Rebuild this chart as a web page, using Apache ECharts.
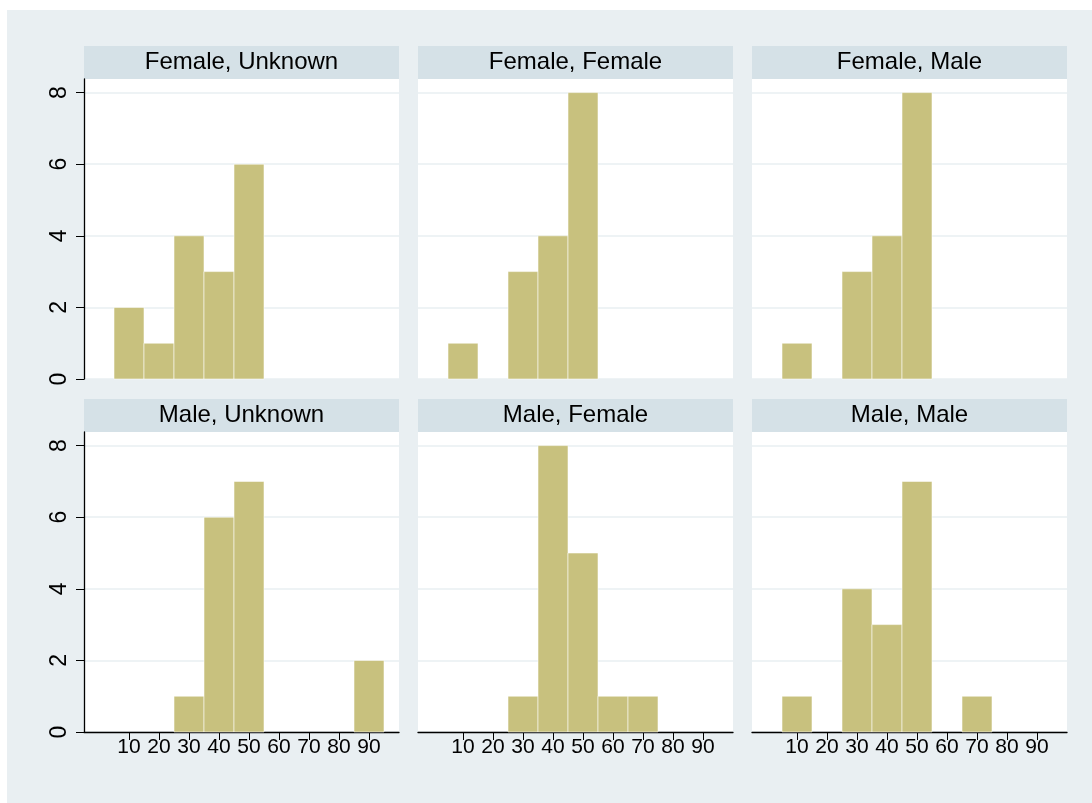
<!DOCTYPE html>
<html>
<head>
<meta charset="utf-8">
<script src="https://cdn.jsdelivr.net/npm/echarts@6/dist/echarts.min.js"></script>
<style>
  html, body { margin: 0; padding: 0; background: #fff; }
  #main { width: 1092px; height: 803px; }
</style>
</head>
<body>
<div id="main"></div>
<script>
var myChart = echarts.init(document.getElementById('main'));

// histogram bins: edges 5,15,...,95 (width 10)
var binEdges = [5, 15, 25, 35, 45, 55, 65, 75, 85, 95];
var xTicks = [10, 20, 30, 40, 50, 60, 70, 80, 90];
var yTicks = [0, 2, 4, 6, 8];

var panelTitles = ['Female, Unknown', 'Female, Female', 'Female, Male',
                   'Male, Unknown', 'Male, Female', 'Male, Male'];

var femaleUnknown = [2, 1, 4, 3, 6, 0, 0, 0, 0];
var femaleFemale  = [1, 0, 3, 4, 8, 0, 0, 0, 0];
var femaleMale    = [1, 0, 3, 4, 8, 0, 0, 0, 0];
var maleUnknown   = [0, 0, 1, 6, 7, 0, 0, 0, 2];
var maleFemale    = [0, 0, 1, 8, 5, 1, 1, 0, 0];
var maleMale      = [1, 0, 4, 3, 7, 0, 1, 0, 0];

var panelCounts = [femaleUnknown, femaleFemale, femaleMale, maleUnknown, maleFemale, maleMale];

var colX = [84, 418, 752];
var rowTop = [79, 432];
var plotW = 315, plotH = 300, stripH = 33;
var barColor = '#c8c17e';
var gridColor = '#e9eff2';
var font = 'Liberation Sans, Arial, sans-serif';

function binData(counts) {
  var out = [];
  counts.forEach(function (c, i) {
    if (c > 0) out.push([binEdges[i], binEdges[i + 1], c]);
  });
  return out;
}

function renderBin(params, api) {
  var p1 = api.coord([api.value(0), api.value(2)]);
  var p2 = api.coord([api.value(1), 0]);
  return {
    type: 'rect',
    shape: { x: p1[0], y: p1[1], width: p2[0] - p1[0], height: p2[1] - p1[1] },
    style: { fill: barColor, stroke: 'rgba(255,255,255,0.55)', lineWidth: 1 }
  };
}

var grids = [], xAxes = [], yAxes = [], series = [];
var graphics = [{
  type: 'rect', silent: true, z: -10,
  shape: { x: 7, y: 10, width: 1085, height: 793 },
  style: { fill: '#e9eff2' }
}];

panelCounts.forEach(function (counts, i) {
  var row = Math.floor(i / 3), col = i % 3;
  var left = colX[col], top = rowTop[row];
  var isBottom = row === 1, isLeft = col === 0;

  grids.push({
    left: left, top: top, width: plotW, height: plotH,
    show: true, backgroundColor: '#fff', borderWidth: 0
  });

  xAxes.push({
    gridIndex: i, type: 'value', min: -5, max: 100,
    axisLine: { show: isBottom, onZero: false, lineStyle: { color: '#000', width: 1.3 } },
    axisTick: { show: isBottom, customValues: xTicks, length: 8, lineStyle: { color: '#000' } },
    axisLabel: {
      show: isBottom, customValues: xTicks, margin: 5,
      fontSize: 21, color: '#000', fontFamily: font
    },
    splitLine: { show: false }
  });

  yAxes.push({
    gridIndex: i, type: 'value', min: 0, max: 8.38, interval: 2,
    axisLine: { show: isLeft, onZero: false, lineStyle: { color: '#000', width: 1.3 } },
    axisTick: { show: isLeft, customValues: yTicks, length: 8, lineStyle: { color: '#000' } },
    axisLabel: {
      show: isLeft, customValues: yTicks, rotate: 90, margin: 13,
      fontSize: 23, color: '#000', fontFamily: font
    },
    splitLine: { show: true, lineStyle: { color: gridColor, width: 1.5 } }
  });

  series.push({
    type: 'custom', xAxisIndex: i, yAxisIndex: i,
    renderItem: renderBin,
    encode: { x: [0, 1], y: 2 },
    data: binData(counts)
  });

  graphics.push({
    type: 'rect', silent: true,
    shape: { x: left, y: top - stripH, width: plotW, height: stripH },
    style: { fill: '#d5e1e7' }
  });
  graphics.push({
    type: 'text', silent: true,
    x: left + plotW / 2, y: top - stripH / 2,
    style: {
      text: panelTitles[i], fill: '#000', fontSize: 24,
      fontFamily: font, align: 'center', verticalAlign: 'middle'
    }
  });
});

var option = {
  backgroundColor: '#fff',
  animation: false,
  graphic: graphics,
  grid: grids,
  xAxis: xAxes,
  yAxis: yAxes,
  series: series
};

option && myChart.setOption(option);
</script>
</body>
</html>
